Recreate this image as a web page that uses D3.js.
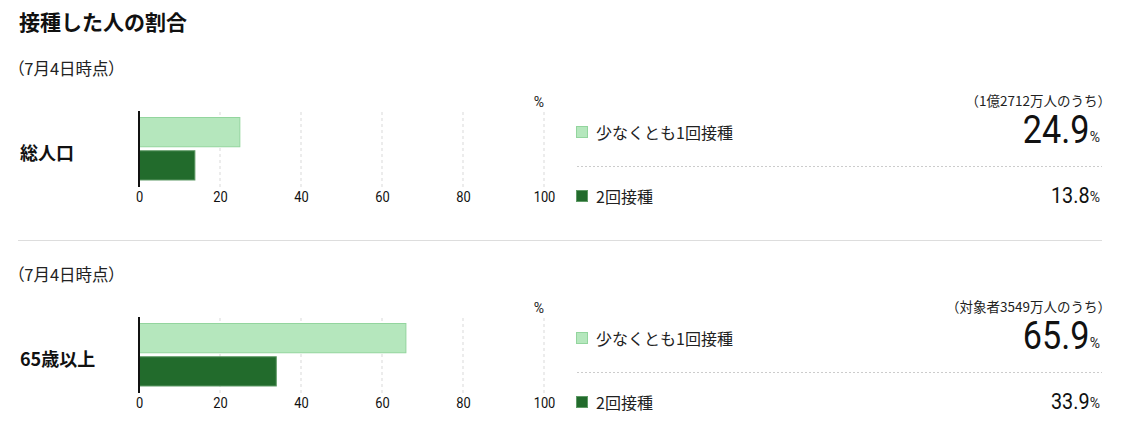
<!DOCTYPE html>
<html>
<head>
<meta charset="utf-8">
<script src="https://cdn.jsdelivr.net/npm/d3@7"></script>
<style>
  html, body { margin: 0; padding: 0; background: #fff; }
  svg { display: block; }
  .jp { font-family: "Noto Sans CJK JP", "Noto Sans", sans-serif; }
  .num { font-family: Roboto, "Noto Sans", sans-serif; }
  .palt { font-feature-settings: "palt"; }
</style>
</head>
<body>
<svg id="chart" width="1121" height="448"></svg>
<script>
// ---- data ----
const title = "接種した人の割合";
const groups = ["総人口", "65歳以上"];
const dateLabels = ["（7月4日時点）", "（7月4日時点）"];
const baseNotes = ["（1億2712万人のうち）", "（対象者3549万人のうち）"];
const seriesNames = ["少なくとも1回接種", "2回接種"];
const atLeastOnce = [24.9, 65.9];
const twoDoses = [13.8, 33.9];
const tickValues = [0, 20, 40, 60, 80, 100];
const unitLabel = "%";

// ---- styles ----
const colors = { fill: ["#b5e7bd", "#226b2c"], stroke: ["#93d59e", "#5f9a66"] };
const svg = d3.select("#chart");

svg.append("text").attr("class", "jp")
  .attr("x", 19).attr("y", 21).attr("dominant-baseline", "central")
  .attr("font-size", 21).attr("font-weight", 700).attr("fill", "#111")
  .text(title);

const x = d3.scaleLinear().domain([0, 100]).range([139, 544]);
const panelOffset = 206;

groups.forEach((g, i) => {
  const off = i * panelOffset;
  const vals = [atLeastOnce[i], twoDoses[i]];
  const p = svg.append("g").attr("transform", `translate(0,${off})`);

  p.append("text").attr("class", "jp palt")
    .attr("x", 16).attr("y", 68).attr("dominant-baseline", "central")
    .attr("font-size", 16.5).attr("fill", "#222").text(dateLabels[i]);

  p.append("text").attr("class", "jp")
    .attr("x", 20).attr("y", 152).attr("dominant-baseline", "central")
    .attr("font-size", 18).attr("font-weight", 700).attr("fill", "#111").text(g);

  // grid
  p.selectAll("line.grid").data(tickValues.filter(t => t > 0)).join("line")
    .attr("class", "grid")
    .attr("x1", d => x(d)).attr("x2", d => x(d))
    .attr("y1", 112).attr("y2", 187)
    .attr("stroke", "#d9d9d9").attr("stroke-width", 1).attr("stroke-dasharray", "3,3");

  const y = d3.scaleBand().domain(seriesNames).range([117.5, 180]).paddingInner(0.12);

  p.selectAll("rect.bar").data(vals).join("rect")
    .attr("class", "bar")
    .attr("x", x(0)).attr("y", (d, k) => y(seriesNames[k]))
    .attr("width", d => x(d) - x(0)).attr("height", y.bandwidth())
    .attr("fill", (d, k) => colors.fill[k])
    .attr("stroke", (d, k) => colors.stroke[k]).attr("stroke-width", 1);

  // zero axis line
  p.append("line").attr("x1", x(0)).attr("x2", x(0)).attr("y1", 111).attr("y2", 187)
    .attr("stroke", "#111").attr("stroke-width", 2);

  // bottom tick labels
  const axis = d3.axisBottom(x).tickValues(tickValues).tickSize(0).tickPadding(0).tickFormat(d3.format("d"));
  const ag = p.append("g").attr("transform", "translate(0,192)").call(axis);
  ag.select(".domain").remove();
  ag.selectAll("text").attr("class", "num").attr("font-size", 14).attr("fill", "#111")
    .attr("font-family", "Roboto, sans-serif").attr("transform", "scale(0.92,1)");

  p.append("text").attr("class", "num")
    .attr("x", x(100)).attr("y", 102).attr("text-anchor", "end").attr("dominant-baseline", "central")
    .attr("font-size", 14).attr("fill", "#222").text(unitLabel);

  // right-side legend & values
  const rowY = [132, 196];
  const baseY = [143, 203];
  const numSize = [38, 22];
  seriesNames.forEach((s, k) => {
    p.append("rect").attr("x", 576.5).attr("y", rowY[k] - 5.5).attr("width", 11).attr("height", 11)
      .attr("fill", colors.fill[k]).attr("stroke", colors.stroke[k]).attr("stroke-width", 1);
    p.append("text").attr("class", "jp")
      .attr("x", 596).attr("y", rowY[k]).attr("dominant-baseline", "central")
      .attr("font-size", 16).attr("fill", "#222").text(s);
    p.append("text").attr("class", "num")
      .attr("x", 1100).attr("y", baseY[k] - 1).attr("text-anchor", "end")
      .attr("font-size", 14).attr("fill", "#222").text(unitLabel);
    p.append("text").attr("class", "num")
      .attr("transform", `translate(1089.5,${baseY[k]}) scale(0.9,1)`)
      .attr("text-anchor", "end")
      .attr("font-size", numSize[k]).attr("fill", "#111").text(d3.format(".1f")(vals[k]));
  });

  p.append("line").attr("x1", 577).attr("x2", 1102).attr("y1", 166.5).attr("y2", 166.5)
    .attr("stroke", "#ccc").attr("stroke-width", 1).attr("stroke-dasharray", "2,2");

  p.append("text").attr("class", "jp")
    .attr("x", 1111).attr("y", 100).attr("text-anchor", "end").attr("dominant-baseline", "central")
    .attr("font-size", 13.5).attr("fill", "#222").text(baseNotes[i]);

  if (i < groups.length - 1) {
    p.append("line").attr("x1", 18).attr("x2", 1102).attr("y1", 240.5).attr("y2", 240.5)
      .attr("stroke", "#ddd").attr("stroke-width", 1);
  }
});
</script>
</body>
</html>
